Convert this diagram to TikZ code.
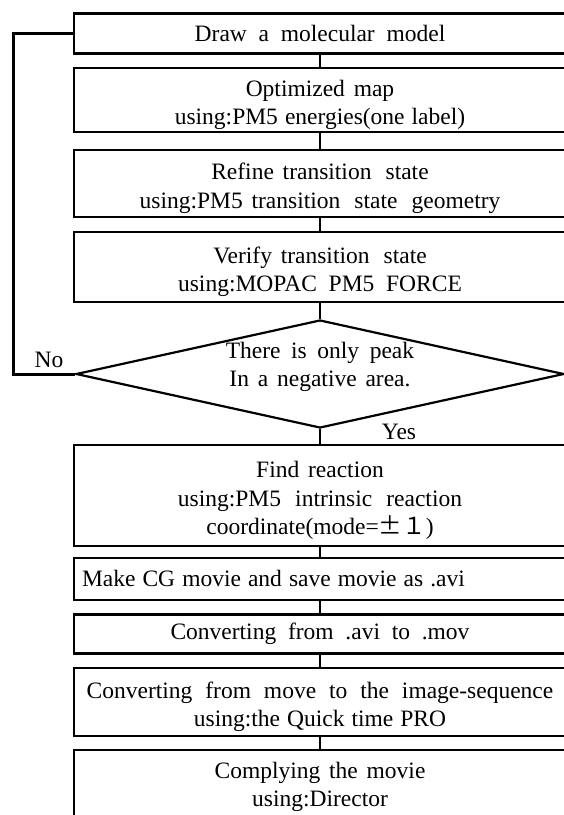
\documentclass[tikz,border=0pt]{standalone}
\usepackage{fontspec}
\setmainfont{Liberation Serif}[WordSpace=1.5]
\newfontfamily\cjkjp{Noto Sans CJK JP}
\usetikzlibrary{shapes.geometric}
\newcommand\wsp{\hspace{0.6em}}
\newcommand\wordsp[1]{\spaceskip=#1em\relax}
\newcommand\topstrut{\rule{0pt}{26pt}}
\newcommand\botstrut{\rule[-4.5pt]{0pt}{0pt}}
\begin{document}
\begin{tikzpicture}[x=1pt,y=-1pt,
  txt/.style={font=\fontsize{23.5}{28.5}\selectfont, align=center},
  stepbox/.style={draw, line width=2.2pt, rectangle, inner sep=0pt,
    minimum width=492pt, txt},
  decision/.style={draw, line width=2.2pt, diamond, inner sep=0pt,
    minimum width=488pt, minimum height=108pt},
  conn/.style={line width=2.2pt},
  loopline/.style={line width=3pt},
  lbl/.style={font=\fontsize{23.5}{28.5}\selectfont, inner sep=0pt}]
\useasboundingbox (0,0) rectangle (564,815);
\clip (0,0) rectangle (564,815);
\fill[white] (0,0) rectangle (564,815);

\node[stepbox, minimum height=40pt] (b1) at (320,33.5) {\wordsp{0.5}Draw a molecular model};
\node[stepbox, minimum height=64pt] (b2) at (320,100) {\topstrut Optimized map\\\wordsp{0.3}using:PM5 energies(one label)\botstrut};
\node[stepbox, minimum height=67pt] (b3) at (320,183.5) {\topstrut Refine transition\wsp state\\using:PM5 transition\wsp state\wsp geometry\botstrut};
\node[stepbox, minimum height=70pt] (b4) at (320,267) {\topstrut Verify transition\wsp state\\\wordsp{0.5}using:MOPAC PM5 FORCE\botstrut};
\node[decision] (d) at (320,374) {};
\node[txt] (dt) at (320,367) {\wordsp{0.45}There is only peak\\In a negative area.};
\node[stepbox, minimum height=101pt] (b5) at (320,495.5) {\topstrut Find reaction\\using:PM5\wsp intrinsic\wsp reaction\\coordinate(mode={\cjkjp ±１})\botstrut};
\node[stepbox, minimum height=42pt, text width=476pt, align=left, inner xsep=8pt] (b6) at (320,579) {\wordsp{0.3}Make CG movie and save movie as .avi};
\node[stepbox, minimum height=39pt] (b7) at (320,634) {\wordsp{0.5}Converting from .avi to .mov};
\node[stepbox, minimum height=68pt] (b8) at (320,702) {\topstrut\wordsp{0.55}Converting from move to the image-sequence\\\wordsp{0.3}using:the Quick time PRO\botstrut};
\node[stepbox, minimum height=74pt] (b9) at (320,787) {Complying the movie\\using:Director\botstrut};

\draw[conn] (b1) -- (b2);
\draw[conn] (b2) -- (b3);
\draw[conn] (b3) -- (b4);
\draw[conn] (b4) -- (d);
\draw[conn] (d) -- (b5);
\draw[conn] (b5) -- (b6);
\draw[conn] (b6) -- (b7);
\draw[conn] (b7) -- (b8);
\draw[conn] (b8) -- (b9);

\coordinate (lc) at (13,0);
\draw[loopline] (d.west) -- (d.west -| lc) |- (b1.west);

\node[lbl] (no) at (49,360) {No};
\node[lbl] (yes) at (399,432) {Yes};
\end{tikzpicture}
\end{document}
